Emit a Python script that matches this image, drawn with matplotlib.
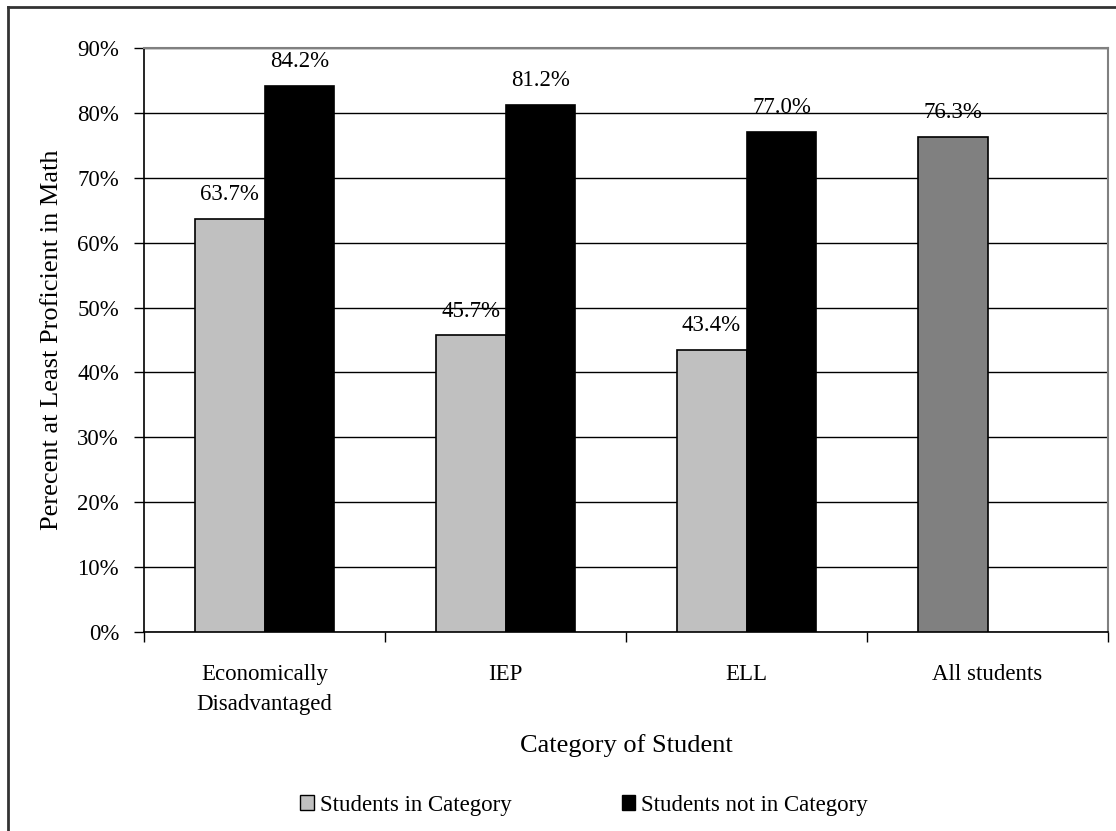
import matplotlib
matplotlib.use("Agg")
import matplotlib.pyplot as plt
from matplotlib.lines import Line2D
from matplotlib.patches import Patch
import numpy as np

categories = ["Economically\nDisadvantaged", "IEP", "ELL", "All students"]
in_category = [63.7, 45.7, 43.4, 76.3]
not_in_category = [84.2, 81.2, 77.0, None]
yticks = [0, 10, 20, 30, 40, 50, 60, 70, 80, 90]

LIGHT, DARK, ALL = "#c0c0c0", "#000000", "#808080"
plt.rcParams["font.family"] = ["Liberation Serif", "DejaVu Serif"]
plt.rcParams["font.size"] = 16.5

fig = plt.figure(figsize=(11.16, 8.31), dpi=100)
ax = fig.add_axes([144 / 1116, 1 - 632 / 831, (1108 - 144) / 1116, (632 - 48) / 831])

x = np.arange(len(categories))
w = 0.29
for i, v in enumerate(in_category):
    color = ALL if categories[i] == "All students" else LIGHT
    ax.bar(x[i] - w / 2, v, w, color=color, edgecolor="black", linewidth=1.2, zorder=3)
    ax.annotate(f"{v:.1f}%", (x[i] - w / 2, v), xytext=(0, 10), textcoords="offset points",
                ha="center", va="bottom")
for i, v in enumerate(not_in_category):
    if v is None:
        continue
    ax.bar(x[i] + w / 2, v, w, color=DARK, edgecolor="black", linewidth=1.2, zorder=3)
    ax.annotate(f"{v:.1f}%", (x[i] + w / 2, v), xytext=(0, 10), textcoords="offset points",
                ha="center", va="bottom")

ax.set_xlim(-0.5, len(categories) - 0.5)
ax.set_ylim(0, 90)
ax.set_yticks(yticks)
ax.set_yticklabels([f"{t}%" for t in yticks])
ax.yaxis.grid(True, color="black", linewidth=1.0, zorder=0)
ax.set_xticks(np.arange(len(categories) + 1) - 0.5)
ax.set_xticklabels([])
ax.set_xticks(x, minor=True)
ax.set_xticklabels(categories, minor=True, linespacing=1.55)
ax.tick_params(axis="x", which="minor", length=0, pad=23)
ax.tick_params(axis="x", which="major", length=7, direction="out", width=1)
ax.tick_params(axis="y", length=7, direction="out", width=1, pad=11)

for s in ("top", "right"):
    ax.spines[s].set_color("#808080")
    ax.spines[s].set_linewidth(1.5)
for s in ("left", "bottom"):
    ax.spines[s].set_color("black")
    ax.spines[s].set_linewidth(1.2)

ax.set_ylabel("Perecent at Least Proficient in Math", fontsize=19, labelpad=10)
ax.set_xlabel("Category of Student", fontsize=19, labelpad=14)

handles = [Patch(facecolor=LIGHT, edgecolor="black", linewidth=1.0, label="Students in Category"),
           Patch(facecolor=DARK, edgecolor="black", linewidth=1.0, label="Students not in Category")]
fig.legend(handles=handles, loc="center", bbox_to_anchor=(584 / 1116, 1 - 805 / 831), ncol=2,
           frameon=False, handlelength=0.6, handleheight=0.6, handletextpad=0.25,
           columnspacing=4.8)

# outer chart border (left and top edges visible)
fig.add_artist(Line2D([8 / 1116, 8 / 1116], [0, 1 - 7 / 831], color="#333333", linewidth=2))
fig.add_artist(Line2D([8 / 1116, 1], [1 - 7 / 831, 1 - 7 / 831], color="#333333", linewidth=2))

fig.savefig("out.png", dpi=100, facecolor="white")
